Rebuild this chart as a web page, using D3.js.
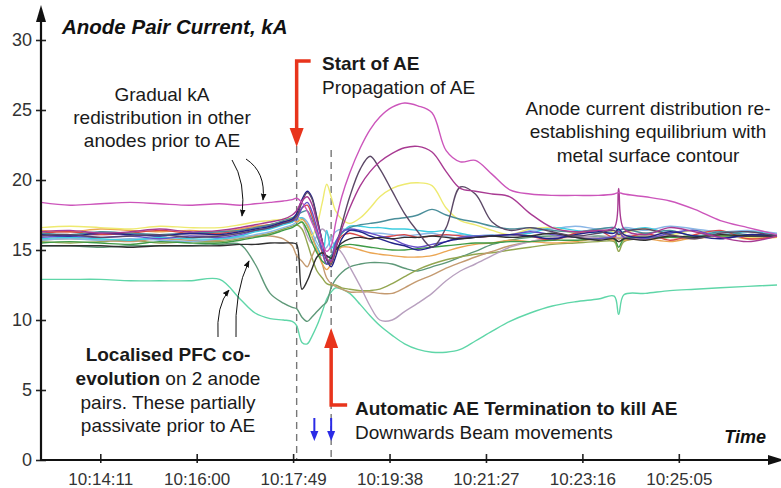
<!DOCTYPE html>
<html><head><meta charset="utf-8">
<script src="https://cdn.jsdelivr.net/npm/d3@7"></script>
<style>
html,body{margin:0;padding:0;background:#fff;}
svg{display:block;font-family:"Liberation Sans",Arial,sans-serif;}
</style></head><body>
<svg id="chart" width="781" height="488"></svg>
<script>
// Sample clock times shared by every anode pair trace
const sampleTimes = ["10:13:04","10:13:37","10:14:11","10:14:45","10:15:18","10:15:52","10:16:26","10:16:49","10:17:06","10:17:23","10:17:38","10:17:48",
  "10:17:53","10:17:59","10:18:05","10:18:10","10:18:16","10:18:22","10:18:27","10:18:32","10:18:37","10:18:44","10:18:53","10:19:05",
  "10:19:16","10:19:27","10:19:41","10:19:55","10:20:10","10:20:26","10:20:42","10:20:58","10:21:15","10:21:34","10:21:54","10:22:17",
  "10:22:42","10:23:08","10:23:34","10:23:52","10:23:57","10:24:03","10:24:27","10:24:55","10:25:23","10:25:52","10:26:23","10:26:56"];

// Anode pair currents, kA
const pairA = [18.4,18.2,18.3,18.4,18.3,18.2,18.3,18.2,18.3,18.4,18.5,18.6, 18.7,18.4,17.8,17.0,16.2,15.4,14.9,15.3,16.9,18.8,20.5,22.3,23.6,24.5,25.2,25.5,25.3,24.8,22.1,21.3,21.4,20.4,19.3, 19.0,18.9,18.9,18.9,19.0,19.1,19.0,18.8,18.5,17.9,17.1,16.6,16.1];
const pairB = [16.3,16.4,16.2,16.3,16.5,16.3,16.4,16.6,16.8,17.0,17.2,17.5, 17.8,18.5,18.8,18.3,17.0,15.6,14.4,14.2,15.2,16.5,18.0,19.6,20.6,21.3,21.9,22.3,22.4,22.0,20.6,19.4,19.2,19.0,18.8, 17.6,16.6,16.3,16.4,16.6,19.4,16.5,16.1,16.6,16.3,15.9,15.6,16.0];
const pairC = [16.0,16.1,15.9,16.0,16.1,15.9,16.0,16.2,16.4,16.6,16.9,17.1, 17.4,18.4,19.1,18.7,17.2,15.6,14.3,14.0,15.0,16.8,18.8,20.8,21.7,20.8,19.2,17.6,16.3,15.2,16.6,19.5,19.0,17.0,16.4, 16.6,16.3,16.0,16.2,16.4,16.1,16.3,16.5,16.1,15.8,16.2,16.3,16.0];
const pairD = [16.6,16.7,16.6,16.5,16.7,16.6,16.6,16.8,17.0,17.1,17.2,17.3, 17.4,17.0,16.5,16.0,16.8,18.4,19.7,18.8,17.8,17.2,16.9,17.3,18.0,18.8,19.4,19.7,19.8,19.6,18.0,17.1,16.8,16.4,16.1, 16.5,16.6,16.2,16.4,16.3,16.0,16.2,16.5,16.1,16.4,16.0,15.9,16.1];
const pairE = [16.2,16.1,16.3,16.2,16.1,16.2,16.3,16.4,16.6,16.8,17.1,17.3, 17.5,17.7,17.8,17.2,16.0,15.0,14.5,14.6,15.5,16.2,16.6,16.8,16.9,17.0,17.2,17.3,17.5,17.9,17.5,17.2,17.0,16.7,16.5, 16.6,16.4,16.3,16.5,16.6,16.4,16.5,16.2,16.4,16.0,16.3,16.1,16.1];
const pairF = [15.8,15.9,15.8,15.7,15.9,15.8,15.8,16.0,16.3,16.5,16.8,17.0, 17.2,17.3,16.7,16.0,15.2,14.6,16.4,15.1,15.6,16.2,16.7,16.7,16.6,16.6,16.5,16.5,16.4,16.3,16.4,16.2,16.0,16.0,16.1, 16.2,16.6,16.4,16.2,16.3,16.2,16.3,16.6,16.2,16.4,16.1,16.3,16.1];
const pairG = [16.1,16.0,16.2,16.1,16.0,16.2,16.1,16.3,16.5,16.7,17.0,17.2, 17.6,18.6,19.2,18.8,17.3,15.6,14.3,13.8,14.5,15.8,16.4,16.3,16.0,15.8,15.5,15.3,15.0,15.2,15.6,15.8,15.9,16.0,16.1, 16.0,15.8,16.1,16.3,16.2,16.5,16.1,15.9,16.3,16.0,15.8,16.1,16.0];
const pairH = [15.9,16.0,15.9,16.0,15.8,16.0,15.9,16.1,16.4,16.6,16.9,17.1, 17.2,18.0,18.4,17.8,16.5,15.0,14.0,14.3,15.5,16.3,16.5,16.4,16.2,16.0,15.8,15.4,15.2,15.4,15.6,15.9,16.0,16.0,16.1, 16.3,16.1,15.9,15.8,16.0,16.3,15.9,15.8,16.2,16.4,15.9,16.0,16.0];
const pairI = [16.4,16.3,16.5,16.4,16.3,16.4,16.3,16.5,16.7,16.8,17.0,17.2, 17.0,17.2,16.8,16.0,15.0,14.0,13.6,14.0,14.8,15.2,15.2,15.0,14.8,14.7,14.6,14.5,14.5,14.6,14.9,15.2,15.4,15.5,15.7, 15.6,15.5,15.6,15.8,15.7,15.6,15.7,15.8,15.6,15.9,16.1,15.8,15.9];
const pairJ = [15.7,15.8,15.7,15.6,15.8,15.7,15.7,15.9,16.0,16.0,15.8,15.3, 14.6,14.2,13.8,14.5,15.2,14.0,13.0,12.6,12.4,12.2,12.0,12.0,12.0,11.9,11.9,12.3,12.8,13.2,13.7,14.1,14.5,14.9,15.3, 15.6,15.8,15.9,15.8,15.9,15.8,15.9,16.0,15.9,15.8,16.0,15.9,16.0];
const pairK = [16.1,16.0,16.1,16.2,16.0,16.1,16.0,16.2,16.4,16.6,16.9,17.0, 17.2,17.0,16.0,15.5,16.0,16.5,16.2,15.7,15.3,14.8,13.8,12.4,11.0,10.0,10.0,10.6,11.2,11.9,12.8,13.5,14.0,14.6,15.2, 15.6,15.9,16.0,15.9,16.0,15.9,16.0,16.1,16.0,15.9,16.0,16.1,16.0];
const pairL = [15.6,15.5,15.6,15.7,15.5,15.6,15.6,15.8,16.0,16.2,16.5,16.7, 16.8,16.5,15.5,14.5,13.5,13.0,12.6,12.5,12.5,12.3,12.2,12.1,12.1,12.2,12.6,13.1,13.6,14.0,14.3,14.5,14.7,14.8,15.0, 15.2,15.4,15.5,15.6,15.6,14.9,15.6,15.8,15.9,16.0,16.0,16.1,16.1];
const pairM = [15.3,15.3,15.2,15.3,15.3,15.3,15.4,15.4,14.0,11.9,11.2,10.9, 10.8,10.2,9.9,10.2,10.6,11.0,11.3,12.3,12.9,13.4,13.8,14.0,14.1,14.1,14.0,13.7,13.5,13.8,14.1,14.5,14.9,15.4,15.7, 15.9,16.0,15.9,16.0,15.9,15.8,15.9,16.0,15.9,16.0,16.0,15.9,16.0];
const pairN = [15.3,15.3,15.3,15.2,15.3,15.3,15.3,15.4,15.4,15.5,15.5,15.5, 15.4,12.2,12.8,13.6,14.5,14.8,14.6,14.4,15.0,15.5,15.8,15.9,15.8,15.9,15.8,15.9,15.9,16.0,15.9,15.8,15.9,16.0,15.9, 16.0,16.2,15.9,15.7,15.8,15.6,15.8,15.7,16.0,15.9,16.1,16.0,16.0];
const pairO = [12.9,12.9,12.9,12.8,12.8,12.8,12.9,11.5,10.5,10.1,10.0,9.9, 9.6,8.4,8.3,8.8,9.6,10.6,11.5,12.0,12.3,12.2,11.9,11.1,10.3,9.6,8.9,8.3,7.9,7.7,7.7,7.9,8.5,9.2,9.9, 10.5,11.0,11.3,11.5,11.7,10.4,11.8,11.9,12.1,12.2,12.3,12.4,12.5];
const pairP = [16.2,16.3,16.1,16.2,16.4,16.2,16.2,16.4,16.6,16.8,17.0,17.2, 17.4,18.0,18.2,17.5,16.2,14.8,14.0,14.2,15.2,16.0,16.2,16.0,15.8,15.9,16.0,16.1,15.9,16.0,16.1,16.0,15.9,16.0,16.1, 16.0,15.7,16.2,16.4,15.9,16.4,15.9,16.2,15.7,16.1,16.4,15.8,16.0];
const pairQ = [15.7,15.8,15.7,15.8,15.7,15.6,15.8,15.9,16.1,16.3,16.6,16.8, 17.0,17.3,17.0,16.3,15.5,15.0,15.2,15.8,16.3,16.5,16.4,16.3,16.2,16.2,16.1,16.0,16.1,16.2,16.0,16.1,16.0,16.1,16.0, 16.4,16.5,16.7,16.5,16.6,16.4,16.6,16.4,16.7,16.5,16.3,16.4,16.2];
const pairR = [15.5,15.6,15.5,15.4,15.6,15.5,15.5,15.7,15.9,16.1,16.4,16.6, 16.8,17.0,16.4,15.6,14.8,14.2,14.0,14.5,15.0,15.3,15.4,15.3,15.2,15.1,15.0,15.0,15.1,15.2,15.3,15.4,15.5,15.5,15.6, 15.6,15.7,15.7,15.8,15.8,15.2,15.8,15.9,15.9,16.0,16.0,16.0,16.0];

// Axis ticks and event times
const currentTicks = [0,5,10,15,20,25,30];
const timeTicks = ["10:14:11","10:16:00","10:17:49","10:19:38","10:21:27","10:23:16","10:25:05"];
const timeStart = "10:13:04", timeEnd = "10:26:56";
const aeStart = "10:17:53", aeStop = "10:18:32";
const beamMoves = ["10:18:13","10:18:32"];

// Drawing order (back to front) and trace colours
const traces = [
  {values: pairO, color: "#5fd6a8"},
  {values: pairM, color: "#5e9878"},
  {values: pairL, color: "#93a650"},
  {values: pairJ, color: "#c49a70"},
  {values: pairK, color: "#b8a0bf"},
  {values: pairQ, color: "#8ab6e6"},
  {values: pairF, color: "#3ccde0"},
  {values: pairI, color: "#eba552"},
  {values: pairD, color: "#eeea70"},
  {values: pairP, color: "#d84848"},
  {values: pairR, color: "#3f9a46"},
  {values: pairE, color: "#4a8e9a"},
  {values: pairH, color: "#6650c8"},
  {values: pairG, color: "#22228a"},
  {values: pairN, color: "#303030"},
  {values: pairC, color: "#5b4866"},
  {values: pairB, color: "#a83a92"},
  {values: pairA, color: "#cc55bb"}
];

const parse = d3.timeParse("%H:%M:%S");
const fmt = d3.timeFormat("%H:%M:%S");
const svg = d3.select("#chart");

const x = d3.scaleTime().domain([parse(timeStart), parse(timeEnd)]).range([41, 777]);
const y = d3.scaleLinear().domain([0, 30]).range([460, 40]);

const defs = svg.append("defs");
defs.append("marker").attr("id", "thinHead").attr("viewBox", "0 0 10 10")
  .attr("refX", 9).attr("refY", 5).attr("markerWidth", 7).attr("markerHeight", 7)
  .attr("orient", "auto").attr("markerUnits", "userSpaceOnUse")
  .append("path").attr("d", "M0,1 L10,5 L0,9 Z").attr("fill", "#111");

// Event marker lines
[aeStart, aeStop].forEach((t, i) => {
  svg.append("line").attr("x1", x(parse(t))).attr("x2", x(parse(t)))
    .attr("y1", i === 0 ? 146 : 150).attr("y2", y(0))
    .attr("stroke", "#777").attr("stroke-width", 1.4).attr("stroke-dasharray", "7,5");
});

// Traces
const line = d3.line()
  .x((d, i) => x(parse(sampleTimes[i])))
  .y(d => y(d))
  .curve(d3.curveCatmullRom.alpha(0.5));

svg.append("g").selectAll("path").data(traces).join("path")
  .attr("d", d => line(d.values))
  .attr("fill", "none")
  .attr("stroke", d => d.color)
  .attr("stroke-width", 1.4)
  .attr("stroke-linejoin", "round");

// Axes
const yAxis = svg.append("g").attr("transform", "translate(41,0)")
  .call(d3.axisLeft(y).tickValues(currentTicks).tickSize(0).tickPadding(9));
yAxis.select(".domain").remove();
yAxis.selectAll(".tick text").attr("font-size", 18).attr("fill", "#333")
  .attr("font-family", '"Liberation Sans",Arial,sans-serif');
yAxis.selectAll(".tick").append("line").attr("x1", -5).attr("x2", 5).attr("stroke", "#222").attr("stroke-width", 1.6);

const xAxis = svg.append("g").attr("transform", "translate(0,460)")
  .call(d3.axisBottom(x).tickValues(timeTicks.map(parse)).tickFormat(fmt).tickSize(0).tickPadding(13));
xAxis.select(".domain").remove();
xAxis.selectAll(".tick text").attr("font-size", 17).attr("fill", "#333")
  .attr("font-family", '"Liberation Sans",Arial,sans-serif');
xAxis.selectAll(".tick").append("line").attr("y1", -6).attr("y2", 3).attr("stroke", "#222").attr("stroke-width", 1.6);

svg.append("line").attr("x1", 41).attr("x2", 41).attr("y1", 461).attr("y2", 20)
  .attr("stroke", "#111").attr("stroke-width", 2.2);
svg.append("path").attr("d", "M41,5 L36,22 L46,22 Z").attr("fill", "#111");
svg.append("line").attr("x1", 40).attr("x2", 770).attr("y1", 460).attr("y2", 460)
  .attr("stroke", "#111").attr("stroke-width", 2.2);
svg.append("path").attr("d", "M784,460 L768,455 L768,465 Z").attr("fill", "#111");

// Text helpers
function label(txt, px, py, opts = {}) {
  const t = svg.append("text").attr("x", px).attr("y", py)
    .attr("font-size", opts.size || 19)
    .attr("fill", opts.fill || "#1a1a1a")
    .attr("text-anchor", opts.anchor || "start")
    .attr("font-weight", opts.weight || "normal")
    .attr("font-style", opts.style || "normal");
  if (Array.isArray(txt)) {
    txt.forEach(([s, w]) => t.append("tspan").attr("font-weight", w).text(s));
  } else t.text(txt);
  return t;
}

label("Anode Pair Current, kA", 62, 34, {size: 20.5, weight: "bold", style: "italic", fill: "#111"});
label("Time", 766, 443, {size: 18, weight: "bold", style: "italic", anchor: "end", fill: "#111"});

label("Gradual kA", 162, 101, {anchor: "middle"});
label("redistribution in other", 162, 124, {anchor: "middle"});
label("anodes prior to AE", 162, 147, {anchor: "middle"});

label("Start of AE", 322, 70, {weight: "bold"});
label("Propagation of AE", 322, 94);

label("Anode current distribution re-", 648, 115, {anchor: "middle"});
label("establishing equilibrium with", 648, 138, {anchor: "middle"});
label("metal surface contour", 648, 162, {anchor: "middle"});

label("Localised PFC co-", 168, 361, {anchor: "middle", weight: "bold"});
label([["evolution", "bold"], [" on 2 anode", "normal"]], 168, 385, {anchor: "middle"});
label("pairs. These partially", 168, 409, {anchor: "middle"});
label("passivate prior to AE", 168, 432, {anchor: "middle"});

label("Automatic AE Termination to kill AE", 355, 415, {weight: "bold"});
label("Downwards Beam movements", 355, 439);

// Curved pointer arrows
const pointers = [
  "M232,160 Q246,182 242,216",
  "M246,159 Q266,172 263,200",
  "M218,337 Q216,306 229,290",
  "M236,337 Q234,292 249,261"
];
svg.selectAll("path.pointer").data(pointers).join("path").attr("class", "pointer")
  .attr("d", d => d).attr("fill", "none").attr("stroke", "#111").attr("stroke-width", 1)
  .attr("marker-end", "url(#thinHead)");

// Red event arrows
const xs = x(parse(aeStart)), xe = x(parse(aeStop));
svg.append("path").attr("d", `M${xs + 14},61 H${xs} V130`).attr("fill", "none")
  .attr("stroke", "#e8341c").attr("stroke-width", 3.5);
svg.append("path").attr("d", `M${xs - 7},128 L${xs + 7},128 L${xs},147 Z`).attr("fill", "#e8341c");
svg.append("path").attr("d", `M${xe + 16},405 H${xe} V345`).attr("fill", "none")
  .attr("stroke", "#e8341c").attr("stroke-width", 3.5);
svg.append("path").attr("d", `M${xe - 7},348 L${xe + 7},348 L${xe},328 Z`).attr("fill", "#e8341c");

// Beam movement arrows
beamMoves.forEach(t => {
  const bx = x(parse(t));
  svg.append("line").attr("x1", bx).attr("x2", bx).attr("y1", 418).attr("y2", 432)
    .attr("stroke", "#2b2be6").attr("stroke-width", 2);
  svg.append("path").attr("d", `M${bx - 4},431 L${bx + 4},431 L${bx},441 Z`).attr("fill", "#2b2be6");
});
</script>
</body></html>
